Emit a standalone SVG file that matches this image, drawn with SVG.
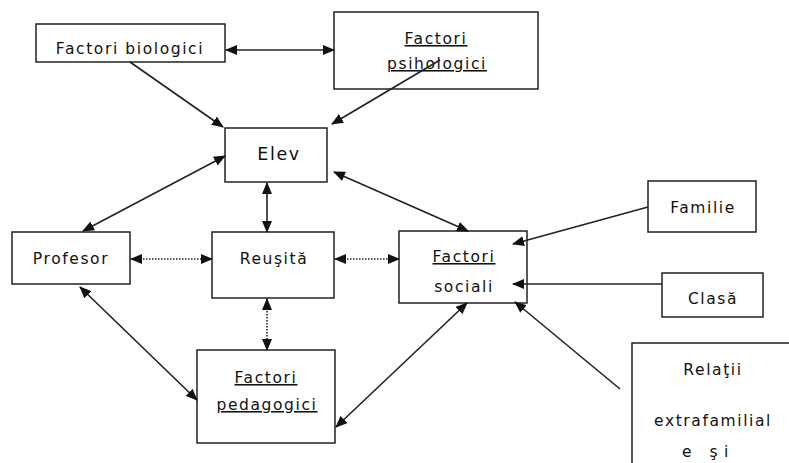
<svg xmlns="http://www.w3.org/2000/svg" width="789" height="463" viewBox="0 0 789 463">
<defs>
<marker id="ah" markerUnits="userSpaceOnUse" markerWidth="12" markerHeight="10" refX="11" refY="5" orient="auto-start-reverse" viewBox="0 0 12 10">
<path d="M0,0 L12,5 L0,10 Z" fill="#111"/>
</marker>
<style>
.box{fill:#fff;stroke:#222;stroke-width:1.5}
.t{font-family:"DejaVu Sans","Liberation Sans",sans-serif;font-size:15.5px;letter-spacing:1.6px;fill:#111;text-anchor:middle}
.u{text-decoration:underline}
.c{stroke:#222;stroke-width:1.6;fill:none}
.d{stroke-dasharray:1.5 1.5}
.b{marker-start:url(#ah);marker-end:url(#ah)}
.e{marker-end:url(#ah)}
</style>
</defs>
<rect width="789" height="463" fill="#fff"/>
<g id="bio"><rect class="box" x="36" y="24" width="189" height="38"/><text class="t" x="130" y="54">Factori biologici</text></g>
<g id="psi"><rect class="box" x="334" y="12" width="204" height="77"/><text class="t u" x="436" y="44">Factori</text><text class="t u" x="437" y="69">psihologici</text></g>
<g id="elev"><rect class="box" x="225" y="128" width="102" height="54"/><text class="t" x="279" y="160" style="font-size:17.5px">Elev</text></g>
<g id="profesor"><rect class="box" x="12" y="232" width="118" height="52"/><text class="t" x="71" y="264">Profesor</text></g>
<g id="reusita"><rect class="box" x="212" y="232" width="122" height="66"/><text class="t" x="274" y="264">Reuşită</text></g>
<g id="sociali"><rect class="box" x="399" y="231" width="128" height="72"/><text class="t u" x="464" y="262">Factori</text><text class="t" x="464" y="292">sociali</text></g>
<g id="familie"><rect class="box" x="648" y="181" width="108" height="51"/><text class="t" x="703" y="213">Familie</text></g>
<g id="clasa"><rect class="box" x="662" y="273" width="101" height="44"/><text class="t" x="713" y="304">Clasă</text></g>
<g id="pedagogici"><rect class="box" x="197" y="350" width="138" height="93"/><text class="t u" x="266" y="383">Factori</text><text class="t u" x="267" y="410">pedagogici</text></g>
<g id="relatii"><rect class="box" x="632" y="343" width="200" height="200"/><text class="t" x="713" y="375">Relaţii</text><text class="t" x="713" y="426">extrafamilial</text><text class="t" x="706" y="457" textLength="48" lengthAdjust="spacing">e şi</text></g>
<g id="connectors">
<line class="c b" x1="226" y1="50" x2="334" y2="50"/>
<line class="c e" x1="130" y1="62" x2="223" y2="127"/>
<line class="c e" x1="440" y1="60" x2="332" y2="124"/>
<line class="c b" x1="225" y1="156" x2="83" y2="231"/>
<line class="c b" x1="267" y1="183" x2="267" y2="232"/>
<line class="c b" x1="334" y1="172" x2="468" y2="231"/>
<line class="c d b" x1="131" y1="259" x2="212" y2="259"/>
<line class="c d b" x1="335" y1="259" x2="399" y2="259"/>
<line class="c d b" x1="267" y1="299" x2="267" y2="350"/>
<line class="c b" x1="80" y1="287" x2="197" y2="400"/>
<line class="c b" x1="336" y1="427" x2="467" y2="303"/>
<line class="c e" x1="648" y1="207" x2="513" y2="244"/>
<line class="c e" x1="662" y1="284" x2="513" y2="284"/>
<line class="c e" x1="620" y1="389" x2="515" y2="302"/>
</g>
</svg>
